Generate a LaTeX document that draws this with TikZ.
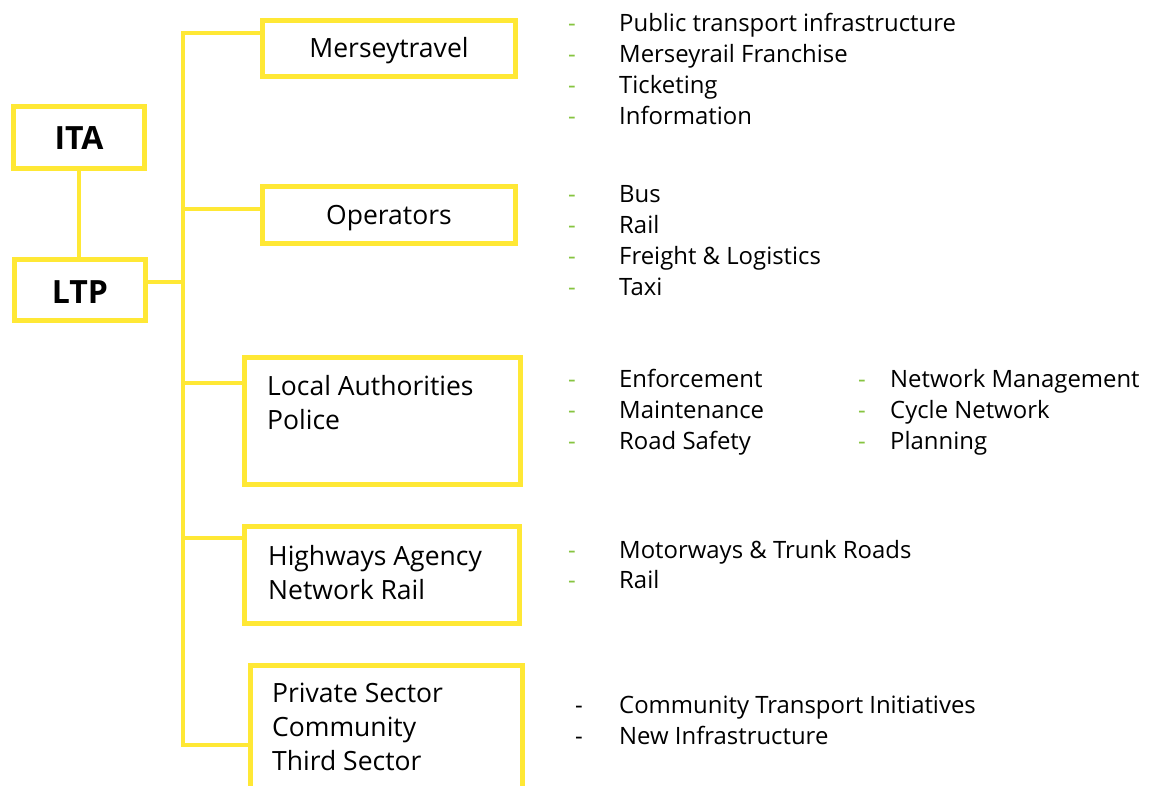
\documentclass[tikz,border=0pt]{standalone}
\usepackage{fontspec}
\setmainfont{Open Sans}
\definecolor{orgyellow}{HTML}{FFE835}
\definecolor{dashgreen}{HTML}{86C440}
\begin{document}
\begin{tikzpicture}[x=1pt,y=-1pt,
  orgbox/.style={draw=orgyellow,line width=4.6pt,rectangle,inner sep=0pt,fill=white},
  link/.style={draw=orgyellow,line width=4.6pt},
  boxtext/.style={font=\fontsize{26.5}{34}\selectfont,inner sep=0pt,anchor=base west},
  headtext/.style={font=\fontsize{32}{38}\selectfont\bfseries,inner sep=0pt,anchor=base},
  item/.style={font=\fontsize{23.9}{28}\selectfont,inner sep=0pt,anchor=base west},
  gdash/.style={item,text=dashgreen},
  kdash/.style={item,text=black}]
\path[use as bounding box] (0,0) rectangle (1155,785);
\clip (0,0) rectangle (1155,785);

% boxes
\node[orgbox,minimum width=131pt,minimum height=62pt] (ita) at (79,137.5) {};
\node[headtext] (itaT) at (79,149) {ITA};
\node[orgbox,minimum width=131pt,minimum height=61pt] (ltp) at (80,290) {};
\node[headtext] (ltpT) at (80,303) {LTP};

\node[orgbox,minimum width=253pt,minimum height=56pt] (mt) at (389,48.5) {};
\node[boxtext,anchor=base] (mtT) at (389,57) {Merseytravel};
\node[orgbox,minimum width=253pt,minimum height=57pt] (op) at (389,215) {};
\node[boxtext,anchor=base] (opT) at (389,224) {Operators};
\node[orgbox,minimum width=276pt,minimum height=127pt] (la) at (382.5,421) {};
\node[boxtext] (laT1) at (267,395) {Local Authorities};
\node[boxtext] (laT2) at (267,429) {Police};
\node[orgbox,minimum width=275pt,minimum height=97pt] (hw) at (382,575) {};
\node[boxtext] (hwT1) at (268,565) {Highways Agency};
\node[boxtext] (hwT2) at (268,599) {Network Rail};
\node[orgbox,minimum width=272pt,minimum height=170pt] (ps) at (386.5,750.5) {};
\node[boxtext] (psT1) at (272,702) {Private Sector};
\node[boxtext] (psT2) at (272,736) {Community};
\node[boxtext] (psT3) at (272,770) {Third Sector};

% trunk and branches
\coordinate (tTop) at (183,33);
\coordinate (tBot) at (183,745);
\coordinate (jOp) at (183,209);
\coordinate (jLtp) at (183,282);
\coordinate (jLa) at (183,383);
\coordinate (jHw) at (183,538);
\draw[link] (tTop -| mt.west) -- (tTop) -- (tBot) -- (tBot -| ps.west);
\draw[link] (jOp) -- (jOp -| op.west);
\draw[link] (jLtp) -- (jLtp -| ltp.east);
\draw[link] (jLa) -- (jLa -| la.west);
\draw[link] (jHw) -- (jHw -| hw.west);
\draw[link] (ita.south) -- (ita.south |- ltp.north);

% Merseytravel remit
\foreach \t [count=\i] in {Public transport infrastructure,Merseyrail Franchise,Ticketing,Information}{
  \node[gdash] (mtd\i) at (568,{31+31*(\i-1)}) {-};
  \node[item] (mti\i) at (619,{31+31*(\i-1)}) {\t};
}
% Operators remit
\foreach \t [count=\i] in {Bus,Rail,Freight \& Logistics,Taxi}{
  \node[gdash] (opd\i) at (568,{202+31*(\i-1)}) {-};
  \node[item] (opi\i) at (619,{202+31*(\i-1)}) {\t};
}
% Local authorities remit
\foreach \t/\u [count=\i] in {Enforcement/Network Management,Maintenance/Cycle Network,Road Safety/Planning}{
  \node[gdash] (lad\i) at (568,{387+31*(\i-1)}) {-};
  \node[item] (lai\i) at (619,{387+31*(\i-1)}) {\t};
  \node[gdash] (lae\i) at (858,{387+31*(\i-1)}) {-};
  \node[item] (laj\i) at (890,{387+31*(\i-1)}) {\u};
}
% Highways remit
\foreach \t [count=\i] in {Motorways \& Trunk Roads,Rail}{
  \node[gdash] (hwd\i) at (568,{558+30*(\i-1)}) {-};
  \node[item] (hwi\i) at (619,{558+30*(\i-1)}) {\t};
}
% Private sector remit
\foreach \t [count=\i] in {Community Transport Initiatives,New Infrastructure}{
  \node[kdash] (psd\i) at (575,{713+31*(\i-1)}) {-};
  \node[item] (psi\i) at (619,{713+31*(\i-1)}) {\t};
}
\end{tikzpicture}
\end{document}
